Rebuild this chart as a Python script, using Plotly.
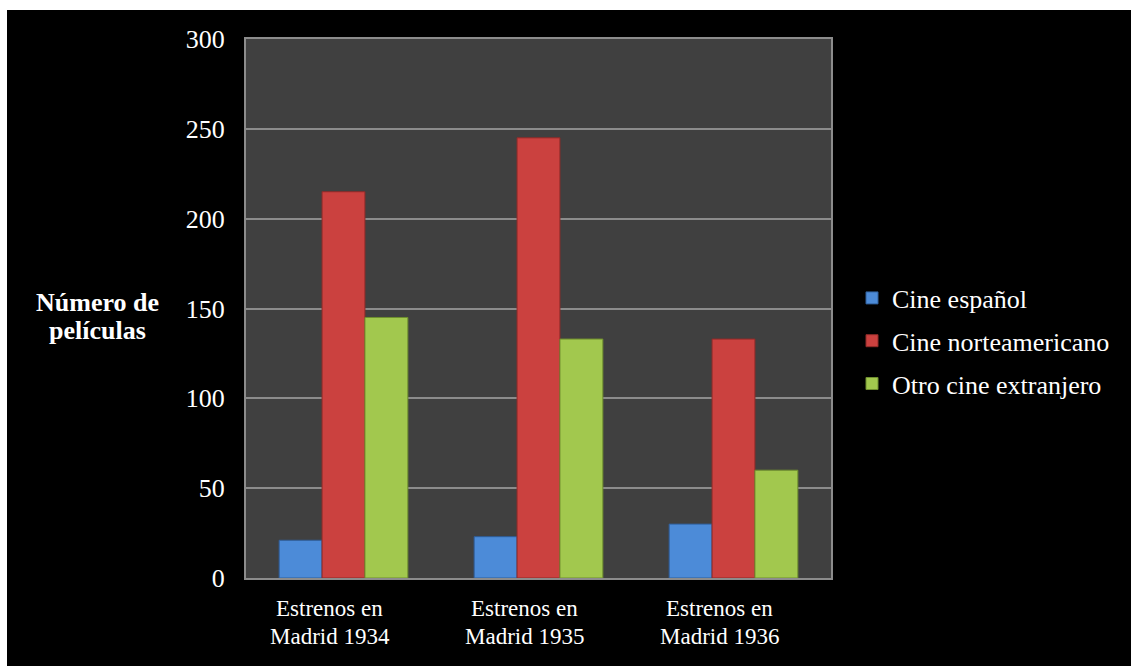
import plotly.graph_objects as go

categories = ["Estrenos en<br>Madrid 1934", "Estrenos en<br>Madrid 1935", "Estrenos en<br>Madrid 1936"]
series_names = ["Cine español", "Cine norteamericano", "Otro cine extranjero"]
cine_espanol = [21, 23, 30]
cine_norteamericano = [215, 245, 133]
otro_extranjero = [145, 133, 60]
y_ticks = [0, 50, 100, 150, 200, 250, 300]

colors = ["#4C8BD8", "#CB413F", "#A2C84E"]
line_colors = ["#2F5E9A", "#8E2A28", "#6F8E2E"]

FONT = "Times New Roman, Liberation Serif, serif"

fig = go.Figure()
for i, (name, vals) in enumerate(zip(series_names, [cine_espanol, cine_norteamericano, otro_extranjero])):
    fig.add_trace(go.Bar(
        x=categories, y=vals, name=name, legendgroup=name,
        marker=dict(color=colors[i], line=dict(color=line_colors[i], width=1)),
    ))

L, R, T, B = 246, 300, 39, 88
W, H = 1131, 666
pw, ph = W - L - R, H - T - B

annotations = [dict(
    text="<b>Número de</b>", xref="paper", yref="paper",
    x=(97 - L) / pw, y=(H - B - 302) / ph, xanchor="center", yanchor="middle",
    showarrow=False, font=dict(size=26, family=FONT, color="white"),
), dict(
    text="<b>películas</b>", xref="paper", yref="paper",
    x=(97 - L) / pw, y=(H - B - 330) / ph, xanchor="center", yanchor="middle",
    showarrow=False, font=dict(size=26, family=FONT, color="white"),
)]
for cat in categories:
    for j, line in enumerate(cat.split("<br>")):
        annotations.append(dict(
            text=line, x=cat, xref="x", yref="paper", y=0,
            xanchor="center", yanchor="middle", xshift=-14, yshift=-(30 + 28 * j),
            showarrow=False, font=dict(size=23, family=FONT, color="white"),
        ))

fig.update_layout(
    width=W, height=H,
    margin=dict(l=L, r=R, t=T, b=B),
    paper_bgcolor="black",
    plot_bgcolor="#404040",
    barmode="group",
    bargap=0.34,
    bargroupgap=0,
    font=dict(family=FONT, color="white", size=23),
    legend=dict(
        x=(852 - L) / pw, xanchor="left",
        y=(H - B - 341) / ph, yanchor="middle",
        font=dict(size=26, family=FONT, color="white"),
        bgcolor="rgba(0,0,0,0)",
        tracegroupgap=6,
        traceorder="grouped",
    ),
    xaxis=dict(
        showline=True, linecolor="#8C8C8C", linewidth=2, mirror=True,
        showgrid=False, ticks="", showticklabels=False,
    ),
    yaxis=dict(
        range=[0, 300], tickvals=y_ticks,
        showline=True, linecolor="#8C8C8C", linewidth=2, mirror=True,
        showgrid=True, gridcolor="#8C8C8C", gridwidth=2,
        ticks="", ticklabelstandoff=14,
        tickfont=dict(size=26, family=FONT, color="white"),
        zeroline=False,
    ),
    annotations=annotations,
    shapes=[
        dict(type="rect", xref="paper", yref="paper",
             x0=-L / pw, x1=(W - L) / pw, y0=(H - B - 10) / ph, y1=(H - B) / ph,
             fillcolor="white", line=dict(width=0), layer="above"),
        dict(type="rect", xref="paper", yref="paper",
             x0=-L / pw, x1=(7 - L) / pw, y0=-B / ph, y1=(H - B) / ph,
             fillcolor="white", line=dict(width=0), layer="above"),
    ],
)

fig.write_html("out.html")
